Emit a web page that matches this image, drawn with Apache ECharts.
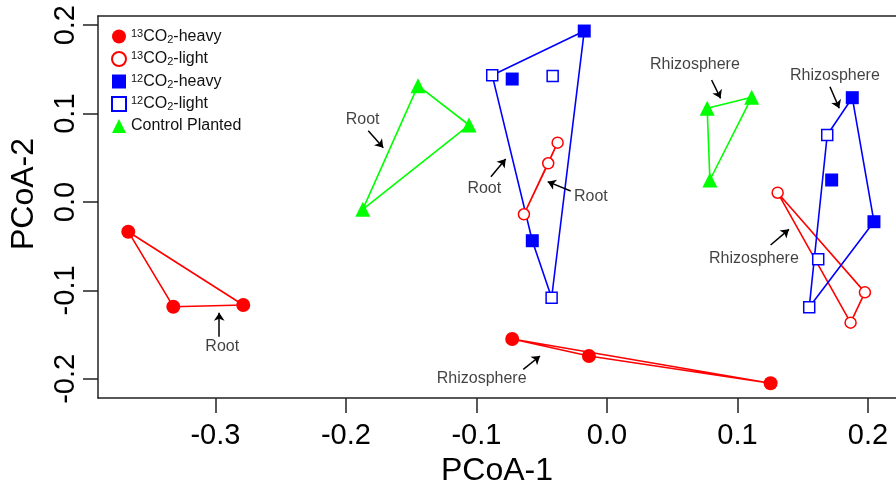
<!DOCTYPE html>
<html><head><meta charset="utf-8">
<script src="https://cdn.jsdelivr.net/npm/echarts@6/dist/echarts.min.js"></script>
<style>html,body{margin:0;padding:0;background:#fff}#c{width:896px;height:485px}</style>
</head><body><div id="c"></div>
<script>
// ---- data (PCoA-1, PCoA-2) ----
const c13HeavyRoot  = [[-0.3668,-0.0336],[-0.3323,-0.1184],[-0.2787,-0.1165]];
const c13HeavyRhizo = [[-0.0726,-0.1550],[-0.0138,-0.1742],[0.1254,-0.2051]];
const c13LightRoot  = [[-0.0378,0.0671],[-0.0450,0.0438],[-0.0636,-0.0139]];
const c13LightRhizo = [[0.1308,0.0105],[0.1977,-0.1022],[0.1867,-0.1365]];
const c12HeavyRoot  = [[-0.0174,0.1934],[-0.0726,0.1391],[-0.0572,-0.0438]];
const c12HeavyRhizo = [[0.1880,0.1180],[0.1722,0.0249],[0.2046,-0.0223]];
const c12LightRoot  = [[-0.0879,0.1433],[-0.0416,0.1425],[-0.0424,-0.1083]];
const c12LightRhizo = [[0.1688,0.0758],[0.1619,-0.0648],[0.1550,-0.1191]];
const ctrlRoot      = [[-0.1448,0.1316],[-0.1057,0.0871],[-0.1871,-0.0083]];
const ctrlRhizo     = [[0.0768,0.1060],[0.1109,0.1184],[0.0789,0.0249]];

const xTicks = [-0.3,-0.2,-0.1,0.0,0.1,0.2];
const yTicks = [-0.2,-0.1,0.0,0.1,0.2];
const legendNames = ['13CO2-heavy','13CO2-light','12CO2-heavy','12CO2-light','Control Planted'];

// annotation labels: [text, labelPos, arrowFrom, arrowTo]
const annotations = [
  ['Root',[-0.1872,0.0936],[-0.1829,0.0807],[-0.1714,0.0614]],
  ['Root',[-0.0940,0.0155],[-0.0889,0.0286],[-0.0776,0.0486]],
  ['Root',[-0.0123,0.0060],[-0.0278,0.0124],[-0.0454,0.0230]],
  ['Root',[-0.2948,-0.1637],[-0.2971,-0.1524],[-0.2971,-0.1252]],
  ['Rhizosphere',[-0.0960,-0.1994],[-0.0641,-0.1893],[-0.0513,-0.1742]],
  ['Rhizosphere',[0.0674,0.1550],[0.0802,0.1380],[0.0871,0.1173]],
  ['Rhizosphere',[0.1747,0.1425],[0.1709,0.1304],[0.1780,0.1060]],
  ['Rhizosphere',[0.1126,-0.0637],[0.1254,-0.0486],[0.1395,-0.0309]]
];

// convex hull (monotone chain), returns closed ring
function hull(pts){
  const p = pts.slice().sort((a,b)=>a[0]-b[0]||a[1]-b[1]);
  const cross=(o,a,b)=>(a[0]-o[0])*(b[1]-o[1])-(a[1]-o[1])*(b[0]-o[0]);
  const lo=[],up=[];
  for(const q of p){while(lo.length>=2&&cross(lo[lo.length-2],lo[lo.length-1],q)<=0)lo.pop();lo.push(q);}
  for(let i=p.length-1;i>=0;i--){const q=p[i];while(up.length>=2&&cross(up[up.length-2],up[up.length-1],q)<=0)up.pop();up.push(q);}
  up.pop();lo.pop();
  const h=lo.concat(up);h.push(h[0]);return h;
}
function ring(pts){const r=pts.slice();r.push(pts[0]);return r;}

const RED='#ff0000', BLUE='#0000ff', GREEN='#00ff00';
const FONT='Liberation Sans, Arial, sans-serif';

function hullSeries(ringPts,color){
  return {type:'line',data:ringPts,showSymbol:false,symbol:'none',silent:true,z:1,
    lineStyle:{color:color,width:1.6},animation:false};
}
function pointSeries(name,pts,symbol,size,color,open){
  return {type:'scatter',name:name,data:pts,symbol:symbol,symbolSize:size,z:3,
    itemStyle: open?{color:'#ffffff',borderColor:color,borderWidth:1.5,opacity:1}:{color:color,opacity:1},
    animation:false};
}

const series = [
  hullSeries(ring(c13HeavyRoot),RED),
  hullSeries(ring(c13HeavyRhizo),RED),
  hullSeries(ring(c13LightRoot),RED),
  hullSeries(ring(c13LightRhizo),RED),
  hullSeries(hull(c12HeavyRoot.concat(c12LightRoot)),BLUE),
  hullSeries(hull(c12HeavyRhizo.concat(c12LightRhizo)),BLUE),
  hullSeries(ring(ctrlRoot),GREEN),
  hullSeries(ring(ctrlRhizo),GREEN),
  pointSeries(legendNames[0],c13HeavyRoot.concat(c13HeavyRhizo),'circle',14,RED,false),
  pointSeries(legendNames[1],c13LightRoot.concat(c13LightRhizo),'circle',11,RED,true),
  pointSeries(legendNames[2],c12HeavyRoot.concat(c12HeavyRhizo),'rect',13,BLUE,false),
  pointSeries(legendNames[3],c12LightRoot.concat(c12LightRhizo),'rect',11,BLUE,true),
  pointSeries(legendNames[4],ctrlRoot.concat(ctrlRhizo),'triangle',15,GREEN,false),
  {type:'lines',coordinateSystem:'cartesian2d',silent:true,z:4,animation:false,
   symbol:['none','arrow'],symbolSize:8,
   lineStyle:{color:'#000',width:1.5,opacity:1},
   data:annotations.map(a=>({coords:[a[2],a[3]]}))},
  {type:'scatter',silent:true,z:5,animation:false,symbolSize:1,
   itemStyle:{color:'rgba(0,0,0,0)'},
   label:{show:true,position:'inside',formatter:p=>p.name,color:'#111',fontSize:16,fontFamily:FONT},
   data:annotations.map(a=>({name:a[0],value:a[1]}))}
];

const chart = echarts.init(document.getElementById('c'),null,{renderer:'canvas'});
chart.setOption({
  animation:false,
  backgroundColor:'#ffffff',
  grid:{left:98,right:0,top:16,bottom:87,containLabel:false,outerBoundsMode:'none'},
  xAxis:[{type:'value',min:-0.39,max:0.2215,position:'bottom',
    name:'PCoA-1',nameLocation:'middle',nameGap:53,
    nameTextStyle:{fontSize:32,fontFamily:FONT,color:'#000'},
    axisLine:{show:true,onZero:false,lineStyle:{color:'#222',width:1.5}},
    axisTick:{show:true,inside:false,length:15,customValues:xTicks,lineStyle:{color:'#222',width:1.5}},
    axisLabel:{show:true,margin:23,customValues:xTicks,formatter:v=>v.toFixed(1),
      fontSize:29,fontFamily:FONT,color:'#000'},
    splitLine:{show:false}},
   {type:'value',min:-0.39,max:0.2215,position:'top',
    axisLine:{show:true,onZero:false,lineStyle:{color:'#222',width:1.5}},
    axisTick:{show:false},axisLabel:{show:false},splitLine:{show:false}}],
  yAxis:{type:'value',min:-0.2217,max:0.2104,
    name:'PCoA-2',nameLocation:'middle',nameGap:58,nameRotate:90,
    nameTextStyle:{fontSize:32,fontFamily:FONT,color:'#000',padding:[0,0,0,26]},
    axisLine:{show:true,onZero:false,lineStyle:{color:'#222',width:1.5}},
    axisTick:{show:true,inside:false,length:15,customValues:yTicks,lineStyle:{color:'#222',width:1.5}},
    axisLabel:{show:true,rotate:90,margin:18,customValues:yTicks,formatter:v=>v.toFixed(1),
      fontSize:29,fontFamily:FONT,color:'#000'},
    splitLine:{show:false}},
  legend:{show:true,data:legendNames,orient:'vertical',left:106,top:23,
    itemWidth:14,itemHeight:14,itemGap:5.5,
    formatter:function(n){
      if(n.indexOf('CO2')>=0){const iso=n.slice(0,2);const rest=n.slice(5);return '{sup|'+iso+'}{t|CO}{sub|2}{t|'+rest+'}';}
      return '{t|'+n+'}';
    },
    textStyle:{fontFamily:FONT,fontSize:16,color:'#111',
      rich:{t:{fontSize:16,fontFamily:FONT,color:'#111'},
            sup:{fontSize:11,fontFamily:FONT,color:'#111',verticalAlign:'top',padding:[0,0,6,0]},
            sub:{fontSize:11,fontFamily:FONT,color:'#111',verticalAlign:'bottom',padding:[6,0,0,0]}}}},
  series:series
});
</script></body></html>
